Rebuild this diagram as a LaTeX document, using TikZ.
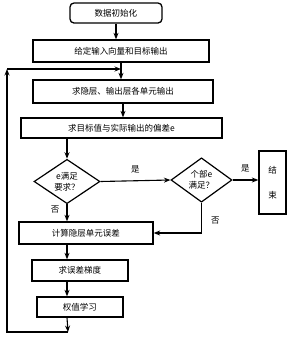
\documentclass[tikz,border=0pt]{standalone}
\usepackage{fontspec}
\setmainfont{Noto Sans CJK SC}
\usetikzlibrary{arrows.meta,shapes.geometric}
\begin{document}
\begin{tikzpicture}[x=1pt,y=-1pt,
  font=\fontsize{8.5}{11}\selectfont,
  box/.style={draw, line width=1.3pt, inner sep=0pt},
  dia/.style={draw, diamond, line width=1.2pt, inner sep=0pt, align=center},
  arr/.style={line width=1.1pt, -{Stealth[length=6.5pt,width=5pt]}},
  lbl/.style={inner sep=0pt}]
\useasboundingbox (0,0) rectangle (300,341);

\node[box, rounded corners=4pt, minimum width=92pt, minimum height=20pt] (init) at (116,13) {数据初始化};
\node[box, minimum width=176pt, minimum height=22pt] (give) at (121,51) {给定输入向量和目标输出};
\node[box, minimum width=180pt, minimum height=23pt] (hid) at (123,91.5) {求隐层、输出层各单元输出};
\node[box, minimum width=201pt, minimum height=20pt] (dev) at (121.5,128) {求目标值与实际输出的偏差e};
\node[dia, minimum width=66pt, minimum height=39pt] (d1) at (67,181.5) {e满足\\要求？};
\node[dia, minimum width=61pt, minimum height=40pt] (d2) at (201.5,180) {个部e\\满足？};
\node[box, minimum width=27pt, minimum height=63pt, align=center] (end) at (272.5,182.5) {结\\[14pt]束};
\node[box, minimum width=134pt, minimum height=22pt] (calc) at (86,233) {计算隐层单元误差};
\node[box, minimum width=96pt, minimum height=21pt] (grad) at (80,270.5) {求误差梯度};
\node[box, minimum width=86pt, minimum height=20pt] (learn) at (80,307) {权值学习};

\coordinate (fb) at (121,69);
\coordinate (b1) at (68,332);
\coordinate (lt) at (7,69);

\draw[arr] (init.south) -- (init.south |- give.north);
\draw[arr] (give.south) -- (give.south |- hid.north);
\draw[arr] (hid.south) -- (hid.south |- dev.north);
\draw[arr] (dev.south -| d1.north) -- (d1.north);
\draw[arr] (d1.east) -- node[lbl, above=7pt] {是} (d2.west);
\draw[arr] (d2.east) -- node[lbl, above=7pt] {是} (end.west |- d2.east);
\draw[arr] (d1.south) -- node[lbl, pos=0.3, left=7pt] {否} (d1.south |- calc.north);
\draw[arr] (d2.south) |- node[lbl, pos=0.3, right=9pt] {否} (calc.east);
\draw[arr] (d1.south |- calc.south) -- (d1.south |- grad.north);
\draw[arr] (d1.south |- grad.south) -- (d1.south |- learn.north);
\draw[arr] (d1.south |- learn.south) -- (b1);
\draw[arr] (b1) -| (lt);
\draw[arr] (lt) -- (fb);
\end{tikzpicture}
\end{document}
